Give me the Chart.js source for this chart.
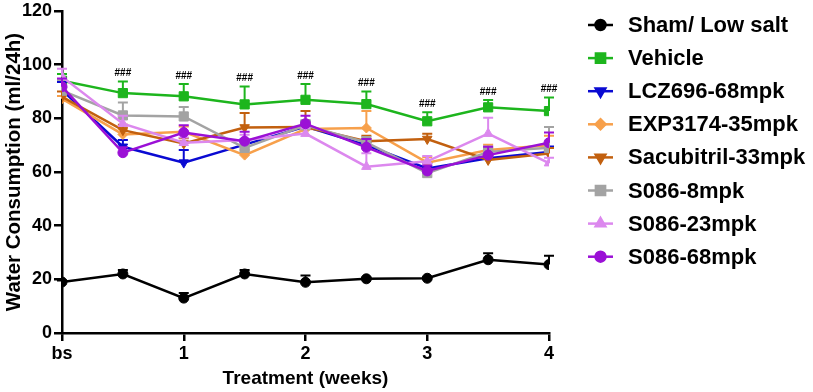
<!DOCTYPE html>
<html>
<head>
<meta charset="utf-8">
<script src="https://cdn.jsdelivr.net/npm/chart.js@4.4.1/dist/chart.umd.min.js"></script>
<style>
  html,body{margin:0;padding:0;background:#fff;}
  #wrap{position:relative;width:813px;height:392px;}
</style>
</head>
<body>
<div id="wrap"><canvas id="c" width="813" height="392"></canvas></div>
<script>
// ---- data ----
const weeks = [0, 0.5, 1, 1.5, 2, 2.5, 3, 3.5, 4];
const xTickLabels = {0: 'bs', 1: '1', 2: '2', 3: '3', 4: '4'};
const seriesNames = ['Sham/ Low salt', 'Vehicle', 'LCZ696-68mpk', 'EXP3174-35mpk', 'Sacubitril-33mpk', 'S086-8mpk', 'S086-23mpk', 'S086-68mpk'];

const shamVals       = [19.0, 22.0, 13.0, 22.0, 18.9, 20.2, 20.4, 27.3, 25.5];
const shamErr        = [0.6, 1.5, 1.9, 1.5, 2.5, 0.5, 0.5, 2.4, 3.3];
const vehicleVals    = [94.0, 89.4, 88.2, 85.2, 86.9, 85.3, 78.9, 84.1, 82.7];
const vehicleErr     = [2.5, 4.3, 4.6, 6.7, 5.9, 4.7, 3.4, 2.7, 5.1];
const lczVals        = [90.5, 69.4, 63.5, 70.2, 76.9, 70.0, 61.3, 65.1, 67.5];
const lczErr         = [3.0, 2.5, 4.7, 2.0, 2.0, 2.0, 2.0, 2.0, 2.0];
const expVals        = [87.3, 74.0, 75.0, 66.3, 76.0, 76.4, 63.5, 68.2, 70.0];
const expErr         = [1.0, 2.0, 2.0, 2.0, 2.0, 6.3, 2.0, 2.0, 3.5];
const sacVals        = [88.0, 75.6, 70.6, 76.6, 76.8, 71.5, 72.3, 64.5, 66.9];
const sacErr         = [2.0, 2.0, 2.0, 5.4, 5.9, 2.0, 2.0, 2.0, 2.0];
const s8Vals         = [90.3, 81.1, 80.7, 69.0, 77.4, 71.0, 59.6, 67.5, 69.0];
const s8Err          = [4.0, 4.8, 3.5, 2.0, 2.0, 2.0, 1.5, 2.0, 7.8];
const s23Vals        = [95.5, 78.0, 70.9, 71.9, 74.3, 62.0, 64.0, 74.3, 63.3];
const s23Err         = [3.0, 3.0, 2.0, 2.0, 2.0, 5.0, 2.0, 5.9, 2.0];
const s68Vals        = [91.8, 67.2, 74.7, 71.5, 78.0, 69.2, 60.4, 66.3, 70.9];
const s68Err         = [3.0, 2.0, 2.7, 3.5, 3.0, 3.1, 2.0, 3.1, 3.8];
const vehicleSig     = ['', '###', '###', '###', '###', '###', '###', '###', '###'];

// ---- styles ----
const colors = ['#000000', '#1db51d', '#0a0ad2', '#f7a04b', '#c2600f', '#a3a3a3', '#dc88ee', '#9b10d6'];
const shapes = ['circle', 'rect', 'triangle', 'rectRot', 'triangle', 'rect', 'triangle', 'circle'];
const rotations = [0, 0, 180, 0, 180, 0, 0, 0];
const radii = [5, 6.5, 5.5, 5, 5.5, 6.5, 5.5, 5];
const allVals = [shamVals, vehicleVals, lczVals, expVals, sacVals, s8Vals, s23Vals, s68Vals];
const allErr = [shamErr, vehicleErr, lczErr, expErr, sacErr, s8Err, s23Err, s68Err];

const FONT = "'Liberation Sans', Arial, Helvetica, sans-serif";

const datasets = seriesNames.map((name, i) => ({
  label: name,
  data: weeks.map((w, j) => ({x: w, y: allVals[i][j]})),
  errs: allErr[i],
  sig: i === 1 ? vehicleSig : null,
  borderColor: colors[i],
  backgroundColor: colors[i],
  borderWidth: 2.5,
  pointStyle: shapes[i],
  pointRotation: rotations[i],
  pointRadius: radii[i],
  pointBorderWidth: 1,
  pointBackgroundColor: colors[i],
  pointBorderColor: colors[i],
  tension: 0,
  order: seriesNames.length - i
}));

const errorBars = {
  id: 'errorBars',
  beforeDatasetDraw(chart, args) {
    const ds = chart.data.datasets[args.index];
    const meta = chart.getDatasetMeta(args.index);
    const ys = chart.scales.y;
    const ctx = chart.ctx;
    ctx.save();
    ctx.strokeStyle = ds.borderColor;
    ctx.lineWidth = 2;
    meta.data.forEach((pt, j) => {
      const top = ys.getPixelForValue(ds.data[j].y + ds.errs[j]);
      ctx.beginPath();
      ctx.moveTo(pt.x, pt.y);
      ctx.lineTo(pt.x, top);
      ctx.moveTo(pt.x - 5, top);
      ctx.lineTo(pt.x + 5, top);
      ctx.stroke();
    });
    ctx.restore();
  },
  afterDatasetsDraw(chart) {
    const ctx = chart.ctx;
    const ys = chart.scales.y;
    ctx.save();
    ctx.fillStyle = '#000';
    ctx.font = 'bold 10px ' + FONT;
    ctx.textAlign = 'center';
    ctx.textBaseline = 'bottom';
    chart.data.datasets.forEach((ds, i) => {
      if (!ds.sig) return;
      const meta = chart.getDatasetMeta(i);
      meta.data.forEach((pt, j) => {
        if (!ds.sig[j]) return;
        const top = ys.getPixelForValue(ds.data[j].y + ds.errs[j]);
        ctx.fillText(ds.sig[j], pt.x, top - 3);
      });
    });
    ctx.restore();
  }
};

const legendPlugin = {
  id: 'customLegend',
  afterDraw(chart) {
    const ctx = chart.ctx;
    ctx.save();
    chart.data.datasets.forEach((ds, i) => {
      const y = 25 + i * 33.1;
      ctx.strokeStyle = ds.borderColor;
      ctx.lineWidth = 2.5;
      ctx.beginPath();
      ctx.moveTo(588, y);
      ctx.lineTo(613, y);
      ctx.stroke();
      ctx.fillStyle = ds.borderColor;
      Chart.helpers.drawPoint(ctx, {
        pointStyle: ds.pointStyle,
        rotation: ds.pointRotation,
        radius: ds.pointRadius,
        borderWidth: 1
      }, 600.5, y);
      ctx.fillStyle = '#000';
      ctx.font = 'bold 22px ' + FONT;
      ctx.textAlign = 'left';
      ctx.textBaseline = 'middle';
      ctx.fillText(ds.label, 628, y + 1);
    });
    ctx.restore();
  }
};

new Chart(document.getElementById('c'), {
  type: 'line',
  data: {datasets},
  plugins: [errorBars, legendPlugin],
  options: {
    responsive: false,
    animation: false,
    layout: {padding: {top: 8, right: 264, left: 0, bottom: 0}},
    plugins: {legend: {display: false}, tooltip: {enabled: false}},
    scales: {
      x: {
        type: 'linear',
        min: 0, max: 4,
        afterFit(s) { s.height = 59; },
        afterBuildTicks(s) { s.ticks = Object.keys(xTickLabels).map(v => ({value: +v})); },
        ticks: {
          callback: v => xTickLabels[v] ?? '',
          color: '#000',
          font: {family: FONT, size: 18, weight: 'bold'},
          padding: 2,
          maxRotation: 0
        },
        grid: {drawOnChartArea: false, drawTicks: true, tickLength: 8, color: '#000', lineWidth: 2.5},
        border: {color: '#000', width: 2.5},
        title: {display: true, text: 'Treatment (weeks)', color: '#000', font: {family: FONT, size: 19, weight: 'bold'}, padding: {top: 0, bottom: 2}}
      },
      y: {
        min: 0, max: 120,
        afterFit(s) { s.width = 62; },
        ticks: {
          stepSize: 20,
          color: '#000',
          font: {family: FONT, size: 18, weight: 'bold', lineHeight: 1},
          padding: 2
        },
        grid: {drawOnChartArea: false, drawTicks: true, tickLength: 8, color: '#000', lineWidth: 2.5},
        border: {color: '#000', width: 2.5},
        title: {display: true, text: 'Water Consumption (ml/24h)', color: '#000', font: {family: FONT, size: 20.5, weight: 'bold'}, padding: {top: 2, bottom: 0}}
      }
    }
  }
});
</script>
</body>
</html>
